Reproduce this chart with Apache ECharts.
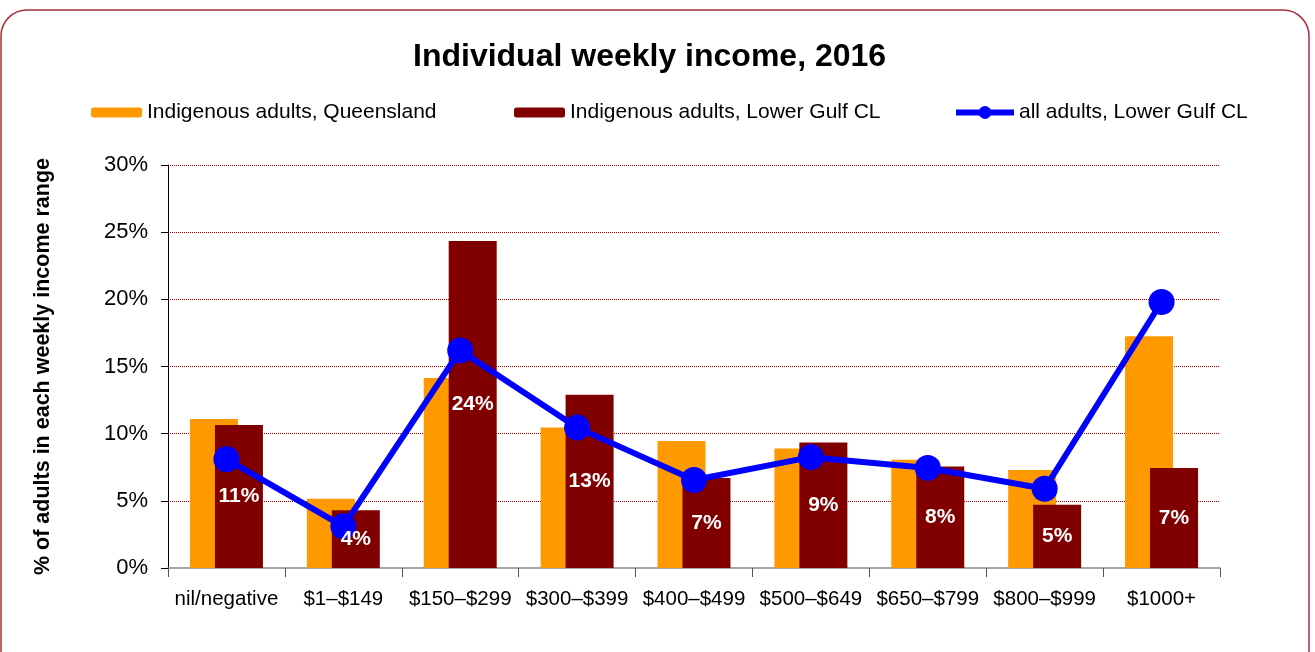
<!DOCTYPE html>
<html lang="en">
<head>
<meta charset="UTF-8">
<title>Individual weekly income, 2016</title>
<script src="https://cdn.jsdelivr.net/npm/echarts@6/dist/echarts.min.js"></script>
<style>
  html, body { margin: 0; padding: 0; background: #fff; }
  #chart { width: 1315px; height: 652px; }
</style>
</head>
<body>
<div id="chart"></div>
<script>
// income ranges
const categories = ['nil/negative', '$1\u2013$149', '$150\u2013$299', '$300\u2013$399', '$400\u2013$499',
  '$500\u2013$649', '$650\u2013$799', '$800\u2013$999', '$1000+'];

// % of adults in each range
const qldIndigenous = [11.1, 5.15, 14.15, 10.45, 9.45, 8.9, 8.05, 7.3, 17.25];
const gulfIndigenous = [10.65, 4.3, 24.35, 12.9, 6.7, 9.35, 7.55, 4.7, 7.45];
const gulfAll = [8.1, 3.1, 16.2, 10.45, 6.55, 8.25, 7.45, 5.9, 19.8];

const yTicks = [0, 5, 10, 15, 20, 25, 30];

const FONT = '"Liberation Sans", Arial, sans-serif';

const chart = echarts.init(document.getElementById('chart'));

const legendText = { fontSize: 21, color: '#000', fontFamily: FONT };

// labels sit above the blue line, so they go on a see-through copy of the bars
const pctLabel = {
  show: true,
  position: 'inside',
  color: '#fff',
  fontSize: 21,
  fontWeight: 'bold',
  fontFamily: FONT,
  formatter: p => Math.round(p.value) + '%'
};

chart.setOption({
  animation: false,
  textStyle: { fontFamily: FONT },
  graphic: [{
    type: 'rect',
    shape: { x: 1, y: 10, width: 1308, height: 690, r: 26 },
    style: { fill: 'none', stroke: '#a8323a', lineWidth: 1.5 },
    silent: true
  }],
  title: {
    text: 'Individual weekly income, 2016',
    left: 408,
    top: 36,
    textStyle: { fontSize: 32, fontWeight: 'bold', color: '#000', fontFamily: FONT }
  },
  legend: [
    {
      data: ['Indigenous adults, Queensland'],
      left: 86, top: 97,
      itemWidth: 51, itemHeight: 10,
      textStyle: legendText
    },
    {
      data: ['Indigenous adults, Lower Gulf CL'],
      left: 509, top: 97,
      itemWidth: 51, itemHeight: 10,
      textStyle: legendText
    },
    {
      data: ['all adults, Lower Gulf CL'],
      left: 948, top: 97,
      itemWidth: 58, itemHeight: 16,
      lineStyle: { width: 6 },
      textStyle: legendText
    }
  ],
  grid: { left: 168, right: 95, top: 165, bottom: 84 },
  xAxis: [
    {
      type: 'category',
      data: categories,
      axisLine: { lineStyle: { color: '#888', width: 1.5 } },
      axisTick: { show: true, interval: 0, length: 9, lineStyle: { color: '#555' } },
      axisLabel: { interval: 0, fontSize: 20.5, color: '#000', margin: 21, fontFamily: FONT }
    },
    {
      type: 'category',
      data: categories,
      position: 'bottom',
      show: false
    }
  ],
  yAxis: {
    type: 'value',
    min: yTicks[0],
    max: yTicks[yTicks.length - 1],
    interval: 5,
    name: '% of adults in each weekly income range',
    nameLocation: 'middle',
    nameGap: 114,
    nameTextStyle: { fontSize: 21.5, fontWeight: 'bold', color: '#000', fontFamily: FONT },
    axisLine: { show: true, lineStyle: { color: '#000', width: 1 } },
    axisTick: { show: true, length: 7, lineStyle: { color: '#000' } },
    axisLabel: { fontSize: 22, color: '#000', margin: 20, formatter: '{value}%', fontFamily: FONT },
    splitLine: {
      show: true,
      showMinLine: false,
      lineStyle: { color: '#a00000', type: [1, 1], width: 1 }
    }
  },
  series: [
    {
      name: 'Indigenous adults, Queensland',
      type: 'bar',
      data: qldIndigenous,
      barWidth: 48,
      barGap: '-48%',
      itemStyle: { color: '#ff9900' }
    },
    {
      name: 'Indigenous adults, Lower Gulf CL',
      type: 'bar',
      data: gulfIndigenous,
      barWidth: 48,
      itemStyle: { color: '#800000' }
    },
    {
      name: 'all adults, Lower Gulf CL',
      type: 'line',
      data: gulfAll,
      symbol: 'circle',
      symbolSize: 26,
      lineStyle: { color: '#0000ff', width: 6 },
      itemStyle: { color: '#0000ff' },
      z: 3
    },
    {
      name: 'qld-spacer',
      type: 'bar',
      xAxisIndex: 1,
      data: qldIndigenous,
      barWidth: 48,
      barGap: '-48%',
      silent: true,
      itemStyle: { color: 'rgba(0,0,0,0)' },
      z: 5
    },
    {
      name: 'gulf-labels',
      type: 'bar',
      xAxisIndex: 1,
      data: gulfIndigenous,
      barWidth: 48,
      silent: true,
      itemStyle: { color: 'rgba(0,0,0,0)' },
      label: pctLabel,
      z: 5
    }
  ]
});
</script>
</body>
</html>
